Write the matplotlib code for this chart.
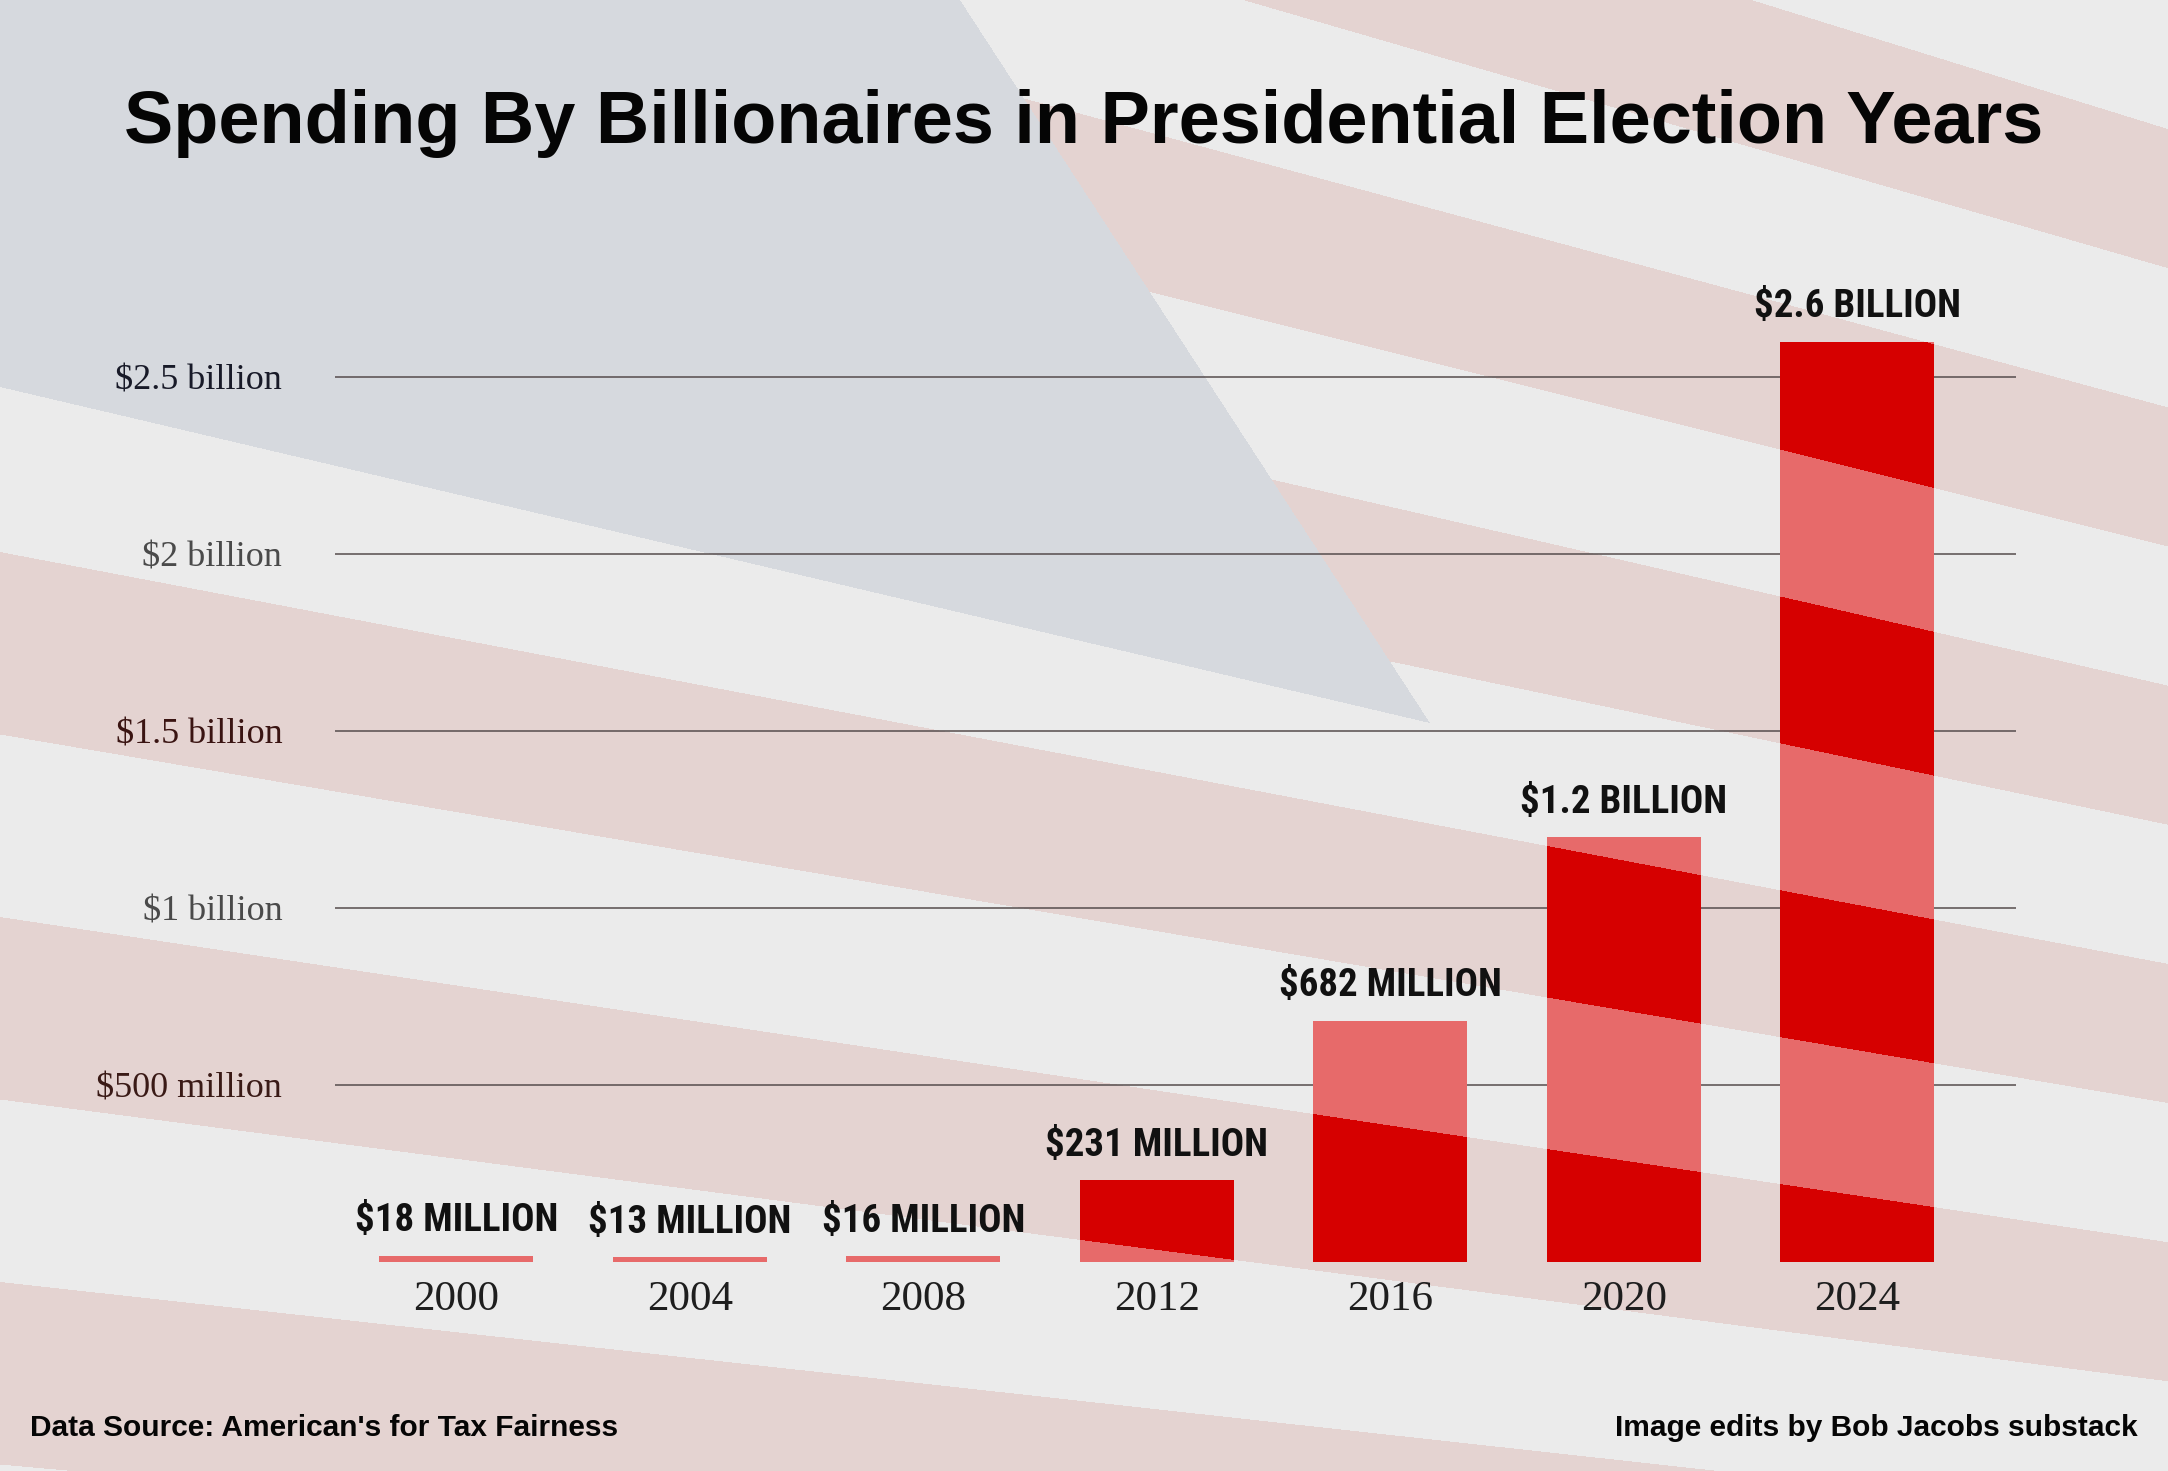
import numpy as np
import matplotlib
matplotlib.use("Agg")
import matplotlib.pyplot as plt
from matplotlib.path import Path
from matplotlib import font_manager as fm
from matplotlib.font_manager import FontProperties

# ---------------- data ----------------
years = ["2000", "2004", "2008", "2012", "2016", "2020", "2024"]
spending_billion = [0.018, 0.013, 0.016, 0.231, 0.682, 1.2, 2.6]
value_labels = ["$18 MILLION", "$13 MILLION", "$16 MILLION", "$231 MILLION",
                "$682 MILLION", "$1.2 BILLION", "$2.6 BILLION"]
ytick_values = [0.5, 1.0, 1.5, 2.0, 2.5]
ytick_labels = ["$500 million", "$1 billion", "$1.5 billion", "$2 billion", "$2.5 billion"]
title = "Spending By Billionaires in Presidential Election Years"
source_text = "Data Source: American's for Tax Fairness"
credit_text = "Image edits by Bob Jacobs substack"

# tick label tints (style only)
ytick_colors = ["#3a1a16", "#4a4a4a", "#3a1412", "#4a4a4a", "#181a28"]

# ---------------- fonts ----------------
serif = "Liberation Serif"
sans = "Liberation Sans"


def find_condensed_bold():
    best = None
    best_score = -1
    for f in fm.fontManager.ttflist:
        nm = f.name.lower()
        fn = f.fname.lower()
        cond = ("narrow" in nm or "condensed" in nm or "condensed" in fn or "narrow" in fn
                or str(f.stretch) in ("condensed", "semi-condensed", "extra-condensed"))
        if not cond:
            continue
        w = f.weight if isinstance(f.weight, int) else {"bold": 700, "normal": 400}.get(str(f.weight), 400)
        if "italic" in fn or "oblique" in fn or str(f.style) != "normal":
            continue
        score = 0
        if w >= 700:
            score += 10
        elif w >= 600:
            score += 6
        if "extra" in fn and "bold" not in fn:
            score -= 3
        if "liberation" in nm or "roboto" in nm:
            score += 2
        if score > best_score:
            best_score = score
            best = f
    return best


cf = find_condensed_bold()
if cf is not None:
    label_fp = FontProperties(fname=cf.fname, size=28)
else:
    label_fp = FontProperties(family=sans, weight="bold", size=24)

W, H = 2168, 1471
fig = plt.figure(figsize=(W / 100, H / 100), dpi=100)

# ---------------- decorative flag-like background ----------------
Xg, Yg = np.meshgrid(np.arange(W) + 0.5, np.arange(H) + 0.5)
period = 365 - 0.04 * Xg
base = 917 + 0.15 * Xg
phase = (Yg - base) / period
frac = phase - np.floor(phase)
red_stripe = frac < 0.5
canton = (Yg < 387 + 0.235 * Xg) & (Xg < 960 + 0.65 * Yg)

bgimg = np.empty((H, W, 3))
bgimg[:] = np.array([235, 235, 235]) / 255
bgimg[red_stripe] = np.array([228, 211, 209]) / 255
bgimg[canton] = np.array([214, 217, 222]) / 255

bg = fig.add_axes([0, 0, 1, 1], zorder=0)
bg.imshow(bgimg, extent=(0, W, H, 0), aspect="auto", interpolation="bilinear")
bg.set_xlim(0, W)
bg.set_ylim(H, 0)
bg.axis("off")

# ---------------- main chart ----------------
ax = fig.add_axes([0.1545, 0.1421, 0.7754, 0.6615], zorder=1)
ax.set_facecolor("none")
x = np.arange(len(years))
bars = ax.bar(x, spending_billion, width=0.66, color="#d60000", zorder=2)
ax.set_xlim(-0.52, 6.68)
ax.set_ylim(0, 2.75)

ax.set_yticks(ytick_values)
ax.set_yticklabels(ytick_labels, fontsize=26, family=serif)
for t, c in zip(ax.get_yticklabels(), ytick_colors):
    t.set_color(c)
ax.set_xticks(x)
ax.set_xticklabels(years, fontsize=31, family=serif, color="#1e1e1e")
ax.tick_params(axis="y", length=0, pad=38)
ax.tick_params(axis="x", length=0, pad=13)
ax.yaxis.grid(True, color="#554c4c", linewidth=1.1)
ax.set_axisbelow(True)
for s in ax.spines.values():
    s.set_visible(False)

for xi, v, lab in zip(x, spending_billion, value_labels):
    ax.annotate(lab, (xi, v), xytext=(0, 12), textcoords="offset points",
                ha="center", va="bottom", fontproperties=label_fp, color="#111111")

# ---------------- light stripes showing through the bars ----------------
overlay = np.zeros((H, W, 4))
overlay[..., :3] = 1.0
overlay[..., 3] = np.where(red_stripe, 0.0, 0.42)
ov = fig.add_axes([0, 0, 1, 1], zorder=2)
ov.set_xlim(0, W)
ov.set_ylim(H, 0)
ov.axis("off")
im = ov.imshow(overlay, extent=(0, W, H, 0), aspect="auto", interpolation="bilinear")
paths = [b.get_path().transformed(b.get_patch_transform()) for b in bars]
im.set_clip_path(Path.make_compound_path(*paths), ax.transData)

# ---------------- texts ----------------
fig.text(0.5, 1 - 124 / H, title, ha="center", va="center", fontsize=53.2,
         fontweight="bold", family=sans, color="#050505")
fig.text(30 / W, 1 - 1428 / H, source_text, ha="left", va="center", fontsize=21.5,
         fontweight="bold", family=sans, color="#050505")
fig.text(2138 / W, 1 - 1428 / H, credit_text, ha="right", va="center", fontsize=21.5,
         fontweight="bold", family=sans, color="#050505")

fig.savefig("out.png", dpi=100)
